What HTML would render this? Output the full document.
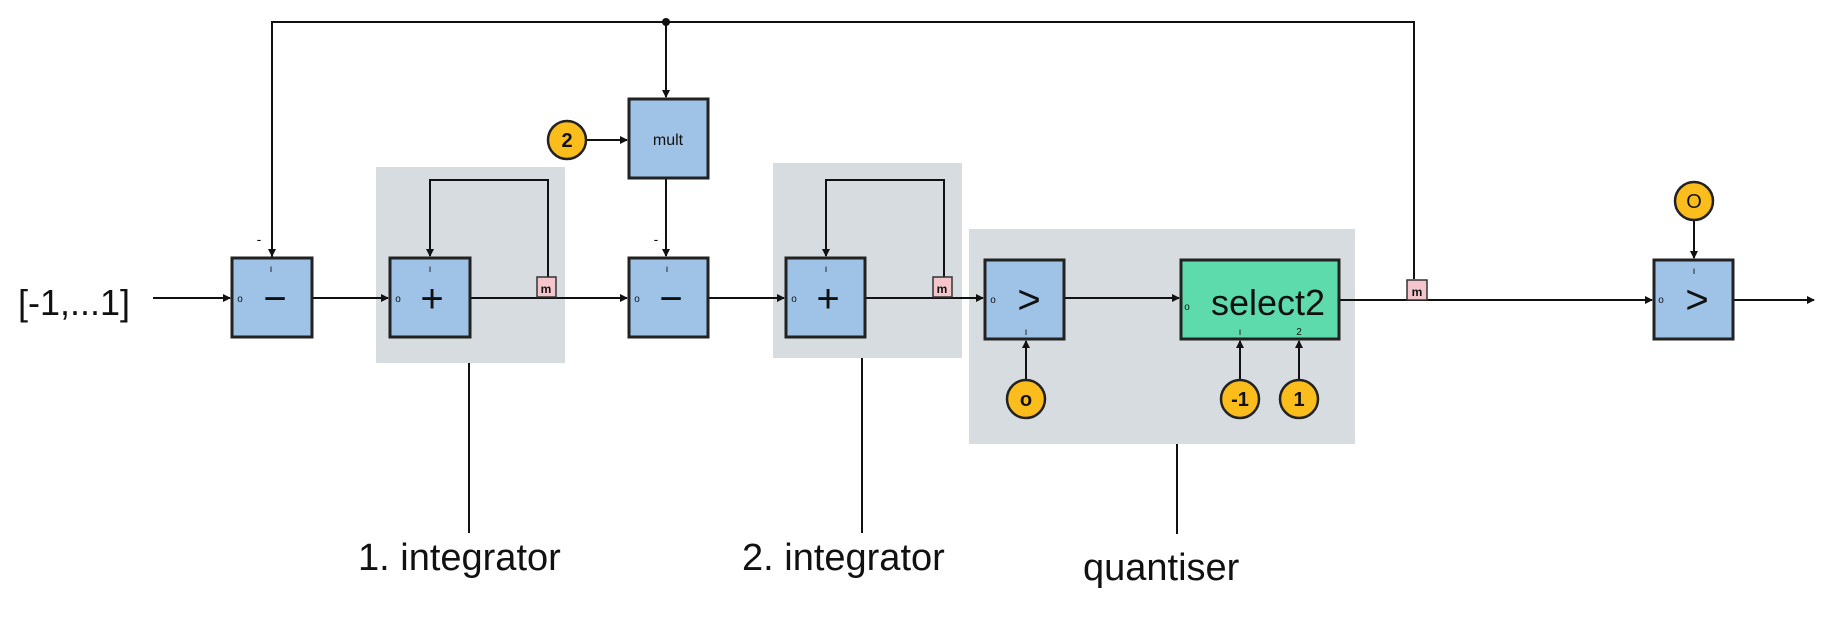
<!DOCTYPE html>
<html><head><meta charset="utf-8"><style>
html,body{margin:0;padding:0;background:#fff}
svg{display:block}
text{font-family:"Liberation Sans",sans-serif;fill:#111}
</style></head><body>
<svg width="1836" height="631" viewBox="0 0 1836 631" xmlns="http://www.w3.org/2000/svg">
<defs>
<marker id="a" markerWidth="8" markerHeight="8" refX="7" refY="4" orient="auto" markerUnits="userSpaceOnUse">
<path d="M0,0 L8,4 L0,8 z" fill="#111"/></marker>
</defs>
<!-- gray groups -->
<rect x="376" y="167" width="189" height="196" fill="#d6dcdf"/>
<rect x="773" y="163" width="189" height="195" fill="#d6dcdf"/>
<rect x="969" y="229" width="386" height="215" fill="#d6dcdf"/>

<g stroke="#111" stroke-width="2" fill="none">
<!-- top feedback -->
<polyline points="272,258 272,22 1414,22 1414,279" marker-start="" />
<line x1="272" y1="200" x2="272" y2="256" marker-end="url(#a)"/>
<line x1="666" y1="22" x2="666" y2="97" marker-end="url(#a)"/>
<line x1="666" y1="178" x2="666" y2="256" marker-end="url(#a)"/>
<line x1="587" y1="140" x2="627" y2="140" marker-end="url(#a)"/>
<!-- loops -->
<polyline points="548,277 548,180 430,180 430,256" marker-end="url(#a)"/>
<polyline points="944,277 944,180 826,180 826,256" marker-end="url(#a)"/>
<!-- main line -->
<line x1="153" y1="298" x2="230" y2="298" marker-end="url(#a)"/>
<line x1="312" y1="298" x2="388" y2="298" marker-end="url(#a)"/>
<line x1="470" y1="298" x2="627" y2="298" marker-end="url(#a)"/>
<line x1="708" y1="298" x2="784" y2="298" marker-end="url(#a)"/>
<line x1="865" y1="298" x2="983" y2="298" marker-end="url(#a)"/>
<line x1="1064" y1="298" x2="1179" y2="298" marker-end="url(#a)"/>
<line x1="1340" y1="300" x2="1652" y2="300" marker-end="url(#a)"/>
<line x1="1733" y1="300" x2="1814" y2="300" marker-end="url(#a)"/>
<!-- inputs from below -->
<line x1="1026" y1="380" x2="1026" y2="341" marker-end="url(#a)"/>
<line x1="1240" y1="380" x2="1240" y2="341" marker-end="url(#a)"/>
<line x1="1299" y1="380" x2="1299" y2="341" marker-end="url(#a)"/>
<line x1="1694" y1="220" x2="1694" y2="258" marker-end="url(#a)"/>
<!-- label lines -->
<line x1="469" y1="363" x2="469" y2="533"/>
<line x1="862" y1="358" x2="862" y2="533"/>
<line x1="1177" y1="444" x2="1177" y2="534"/>
</g>
<circle cx="666" cy="22" r="4" fill="#111"/>

<!-- blocks -->
<g stroke="#222" stroke-width="3" fill="#9fc3e6">
<rect x="232" y="258" width="80" height="79"/>
<rect x="390" y="258" width="80" height="79"/>
<rect x="629" y="99" width="79" height="79"/>
<rect x="629" y="258" width="79" height="79"/>
<rect x="786" y="258" width="79" height="79"/>
<rect x="985" y="260" width="79" height="79"/>
<rect x="1654" y="260" width="79" height="79"/>
<rect x="1181" y="260" width="158" height="79" fill="#5edbac"/>
</g>
<!-- m markers -->
<g stroke="#333" stroke-width="1.5" fill="#f4c6cc">
<rect x="537" y="277" width="19" height="20"/>
<rect x="933" y="277" width="19" height="20"/>
<rect x="1407" y="280" width="20" height="20"/>
</g>
<g font-size="12" font-weight="bold" text-anchor="middle">
<text x="546" y="293">m</text><text x="942" y="293">m</text><text x="1417" y="296">m</text>
</g>
<!-- constants -->
<g stroke="#222" stroke-width="2.5" fill="#fbbd1c">
<circle cx="567" cy="140" r="19"/>
<circle cx="1026" cy="399" r="19"/>
<circle cx="1240" cy="399" r="19"/>
<circle cx="1299" cy="399" r="19"/>
<circle cx="1694" cy="201" r="19"/>
</g>
<g font-size="20" text-anchor="middle" font-weight="bold">
<text x="567" y="147">2</text>
<text x="1026" y="406">o</text>
<text x="1240" y="406">-1</text>
<text x="1299" y="406">1</text>
<text x="1694" y="208" font-weight="normal">O</text>
</g>
<!-- block symbols -->
<g font-size="40" text-anchor="middle">
<text x="275" y="312">−</text>
<text x="432" y="312">+</text>
<text x="671" y="312">−</text>
<text x="828" y="312">+</text>
<text x="1029" y="313">&gt;</text>
<text x="1697" y="313">&gt;</text>
</g>
<text x="668" y="145" font-size="16" text-anchor="middle">mult</text>
<text x="1268" y="315" font-size="36" text-anchor="middle">select2</text>
<!-- small port marks -->
<g font-size="10" text-anchor="middle">
<text x="240" y="302">o</text><text x="398" y="302">o</text><text x="637" y="302">o</text><text x="794" y="302">o</text><text x="993" y="303">o</text><text x="1187" y="310">o</text><text x="1661" y="303">o</text>
<text x="271" y="272">ı</text><text x="430" y="272">ı</text><text x="667" y="272">ı</text><text x="826" y="272">ı</text><text x="1694" y="274">ı</text>
<text x="1026" y="335">ı</text><text x="1240" y="335">ı</text><text x="1299" y="335">2</text>
<text x="259" y="244" font-size="14">-</text><text x="656" y="244" font-size="14">-</text>
</g>
<!-- text labels -->
<text x="18" y="315" font-size="36">[-1,...1]</text>
<text x="358" y="570" font-size="38">1. integrator</text>
<text x="742" y="570" font-size="38">2. integrator</text>
<text x="1083" y="580" font-size="38">quantiser</text>
</svg>
</body></html>
